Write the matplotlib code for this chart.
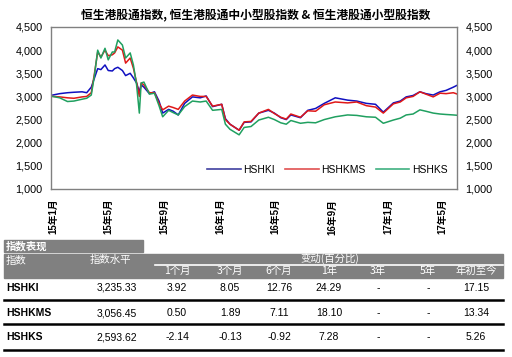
import matplotlib
matplotlib.use("Agg")
import matplotlib.pyplot as plt
from matplotlib.patches import Rectangle
from matplotlib.lines import Line2D
from matplotlib.ticker import MultipleLocator, FuncFormatter
import pandas as pd

FONTS = ['Liberation Sans', 'Noto Sans CJK SC', 'DejaVu Sans']
plt.rcParams['font.family'] = FONTS

# ---- data ----
dates = [
    "2014-12-31", "2015-01-15", "2015-02-01", "2015-02-15", "2015-03-05", "2015-03-15",
    "2015-03-25", "2015-04-01", "2015-04-08", "2015-04-15", "2015-04-24", "2015-05-01",
    "2015-05-10", "2015-05-15", "2015-05-22", "2015-06-01", "2015-06-08", "2015-06-18",
    "2015-06-25", "2015-07-02", "2015-07-08", "2015-07-12", "2015-07-18", "2015-07-30",
    "2015-08-10", "2015-08-20", "2015-08-28", "2015-09-10", "2015-09-20", "2015-10-01",
    "2015-10-15", "2015-11-01", "2015-11-18", "2015-12-01", "2015-12-15", "2016-01-04",
    "2016-01-12", "2016-01-22", "2016-02-11", "2016-02-22", "2016-03-08", "2016-03-25",
    "2016-04-15", "2016-04-28", "2016-05-12", "2016-05-24", "2016-06-03", "2016-06-24",
    "2016-07-10", "2016-07-27", "2016-08-15", "2016-09-08", "2016-10-05", "2016-10-25",
    "2016-11-15", "2016-12-05", "2016-12-22", "2017-01-13", "2017-01-28", "2017-02-10",
    "2017-02-25", "2017-03-12", "2017-03-25", "2017-04-10", "2017-04-25", "2017-05-08",
    "2017-05-24", "2017-05-31",
]
hshki = [
    3030, 3060, 3080, 3090, 3100, 3080, 3200, 3400, 3600, 3580,
    3680, 3560, 3550, 3600, 3630, 3560, 3450, 3500, 3400, 3290,
    3100, 3250, 3200, 3060, 3100, 2900, 2640, 2720, 2680, 2600,
    2850, 2990, 2970, 3010, 2780, 2830, 2520, 2400, 2270, 2440,
    2450, 2640, 2700, 2640, 2540, 2500, 2600, 2540, 2700, 2740,
    2850, 2970, 2920, 2900, 2850, 2830, 2660, 2860, 2900, 2990,
    3020, 3100, 3060, 3030, 3100, 3130, 3200, 3235,
]
hshkms = [
    3000, 2990, 2970, 2960, 2990, 3000, 3080, 3500, 3960, 3850,
    4000, 3880, 3900, 3940, 4070, 4000, 3720, 3830, 3610, 3300,
    3000, 3290, 3250, 3080, 3080, 2850, 2710, 2790, 2760, 2720,
    2900, 3030, 3000, 3000, 2790, 2830, 2500, 2400, 2270, 2450,
    2460, 2640, 2720, 2630, 2550, 2510, 2620, 2550, 2690, 2680,
    2820, 2880, 2860, 2880, 2800, 2770, 2640, 2840, 2880, 2970,
    3000, 3100, 3050, 2990, 3070, 3060, 3080, 3056,
]
hshks = [
    3000, 2970, 2890, 2900, 2940, 2960, 3030, 3460, 4000, 3830,
    4040, 3790, 3960, 3960, 4220, 4110, 3830, 3940, 3680, 3250,
    2640, 3290, 3310, 3050, 3070, 2800, 2560, 2700, 2650, 2600,
    2780, 2900, 2880, 2900, 2700, 2720, 2400, 2290, 2170, 2330,
    2350, 2490, 2550, 2500, 2430, 2400, 2480, 2420, 2440, 2430,
    2500, 2560, 2600, 2590, 2560, 2550, 2420, 2490, 2530, 2600,
    2620, 2710, 2680, 2640, 2620, 2610, 2600, 2594,
]
series_names = ["HSHKI", "HSHKMS", "HSHKS"]
tick_dates = ["2015-01-01", "2015-05-01", "2015-09-01", "2016-01-01",
              "2016-05-01", "2016-09-01", "2017-01-01", "2017-05-01"]
tick_labels = ["15年1月", "15年5月", "15年9月", "16年1月",
               "16年5月", "16年9月", "17年1月", "17年5月"]

# table
tbl_names = ["HSHKI", "HSHKMS", "HSHKS"]
tbl_level = ["3,235.33", "3,056.45", "2,593.62"]
tbl_cols = ["1个月", "3个月", "6个月", "1年", "3年", "5年", "年初至今"]
tbl_vals = [
    ["3.92", "8.05", "12.76", "24.29", "-", "-", "17.15"],
    ["0.50", "1.89", "7.11", "18.10", "-", "-", "13.34"],
    ["-2.14", "-0.13", "-0.92", "7.28", "-", "-", "5.26"],
]

COLORS = ['#1010c0', '#e01818', '#20a060']
LEG_COLORS = ['#4040a0', '#e05050', '#40b080']
W, H = 512, 357


def fx(x):
    return x / W


def fy(y):
    return 1 - y / H


fig = plt.figure(figsize=(W / 100, H / 100), dpi=100)
ax = fig.add_axes([fx(51), fy(189), 406 / W, 162 / H])

x = pd.to_datetime(dates)
for vals, c, name in zip([hshki, hshkms, hshks], COLORS, series_names):
    ax.plot(x, vals, color=c, lw=1.1, label=name)

ax.set_ylim(1000, 4500)
ax.set_xlim(pd.Timestamp("2014-12-27"), pd.Timestamp("2017-06-01"))
ax.yaxis.set_major_locator(MultipleLocator(500))
ax.yaxis.set_major_formatter(FuncFormatter(lambda v, p: f"{int(v):,}"))
ax.tick_params(axis='y', length=0, labelsize=7.8, pad=6, labelright=True)
ax.set_xticks(pd.to_datetime(tick_dates))
ax.set_xticklabels(tick_labels, rotation=90, fontsize=7, fontweight='bold',
                   va='top')
ax.tick_params(axis='x', length=0, pad=7)
for s in ax.spines.values():
    s.set_color('#808080')
    s.set_linewidth(1)

handles = [Line2D([], [], color=c, lw=1.2) for c in LEG_COLORS]
ax.legend(handles, series_names, loc='lower right', ncol=3, frameon=False,
          fontsize=7.5, handlelength=3.2, handletextpad=0.25, columnspacing=1.0,
          bbox_to_anchor=(1.0, 0.03))

fig.text(0.5, fy(15), "恒生港股通指数, 恒生港股通中小型股指数 & 恒生港股通小型股指数",
         ha='center', va='center', fontsize=8.5, fontweight='bold',
         family=['Noto Sans CJK SC', 'DejaVu Sans'])

# ---- table ----
GRAY = '#808080'
fig.patches.append(Rectangle((fx(4), fy(252)), fx(143) - fx(4), 12 / H,
                             transform=fig.transFigure, color=GRAY, zorder=1))
fig.text(fx(6), fy(246), "指数表现", ha='left', va='center', fontsize=7.5,
         fontweight='bold', color='white', family=['Noto Sans CJK SC'])
fig.patches.append(Rectangle((fx(4), fy(278)), fx(503) - fx(4), 24 / H,
                             transform=fig.transFigure, color=GRAY, zorder=1))
fig.lines.append(Line2D([fx(155), fx(503)], [fy(265), fy(265)],
                        transform=fig.transFigure, color='white', lw=1.2))
fig.text(fx(6), fy(261), "指数", ha='left', va='center', fontsize=7.5,
         color='white', family=['Noto Sans CJK SC'])
fig.text(fx(110), fy(260), "指数水平", ha='center', va='center', fontsize=7.5,
         color='white', family=['Noto Sans CJK SC'])
fig.text(fx(330), fy(258), "变动(百分比)", ha='center', va='center', fontsize=7.5,
         color='white', family=['Noto Sans CJK SC'])

col_x = [177, 230, 279, 329, 378, 428, 476]
for cx, lab in zip(col_x, tbl_cols):
    fig.text(fx(cx), fy(271), lab, ha='center', va='center', fontsize=7.5,
             color='white', family=['Noto Sans CJK SC'])

row_y = [288, 313, 337]
line_y = [300, 324, 350]
for i, name in enumerate(tbl_names):
    fig.text(fx(6), fy(row_y[i]), name, ha='left', va='center', fontsize=7.5,
             fontweight='bold')
    fig.text(fx(137), fy(row_y[i]), tbl_level[i], ha='right', va='center',
             fontsize=7.5)
    for cx, v in zip(col_x, tbl_vals[i]):
        fig.text(fx(cx), fy(row_y[i]), v, ha='center', va='center', fontsize=7.5)
    fig.lines.append(Line2D([fx(4), fx(503)], [fy(line_y[i]), fy(line_y[i])],
                            transform=fig.transFigure, color='black', lw=1.8))

fig.savefig("out.png", dpi=100)
